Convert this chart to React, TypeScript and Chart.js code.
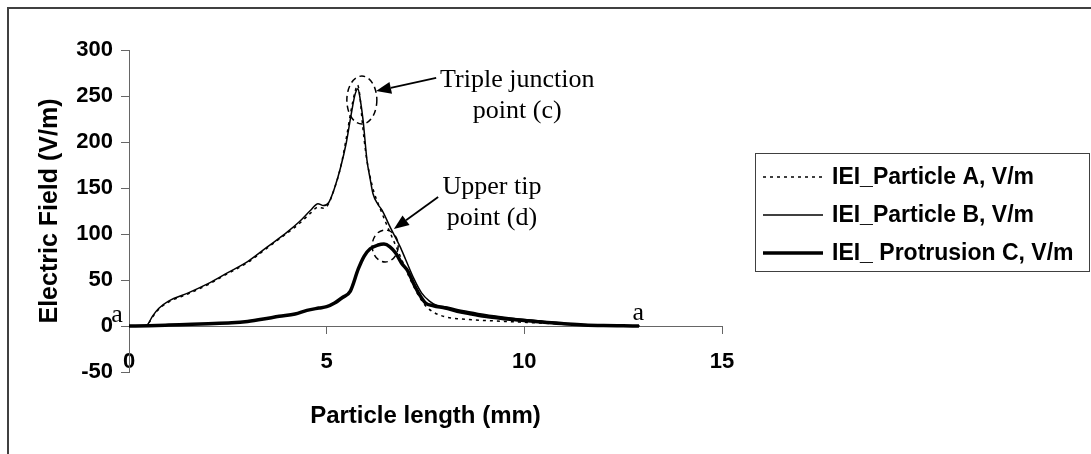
import React, { useEffect, useRef } from 'react';
import { Chart, registerables } from 'chart.js';

Chart.register(...registerables);

// ---------- data ----------
const seriesNames = ['IEI_Particle A, V/m', 'IEI_Particle B, V/m', 'IEI_ Protrusion C, V/m'];

const xA = [0, 0.3, 0.45, 0.6, 0.75, 1.0, 1.5, 2.0, 2.5, 3.0, 3.5, 4.0, 4.3, 4.6, 4.78, 4.92, 5.05, 5.2, 5.35, 5.5, 5.62, 5.72, 5.78, 5.84, 5.9, 6.0, 6.1, 6.2, 6.35, 6.5, 6.7, 6.9, 7.1, 7.3, 7.5, 7.7, 8.0, 8.3, 8.6, 9.0, 9.5, 10.0, 10.5, 11.0, 11.5, 12.0, 12.5, 13.0];
const yA = [0, 0, 1, 10, 18, 26, 35, 45, 57, 69, 85, 101, 111, 123, 129, 128, 133, 150, 172, 205, 235, 255, 262, 250, 222, 185, 162, 145, 128, 112, 92, 72, 52, 35, 22, 15, 10, 8, 7, 6, 5, 4, 3, 2.2, 1.3, 0.6, 0.2, 0];

const xB = [0, 0.3, 0.45, 0.6, 0.75, 1.0, 1.5, 2.0, 2.5, 3.0, 3.5, 4.0, 4.3, 4.6, 4.78, 4.92, 5.05, 5.2, 5.35, 5.5, 5.62, 5.72, 5.79, 5.85, 5.92, 6.02, 6.1, 6.17, 6.3, 6.4, 6.6, 6.86, 7.0, 7.2, 7.4, 7.6, 7.8, 8.0, 8.3, 8.6, 9.0, 9.5, 10.0, 10.5, 11.0, 11.5, 12.0, 12.5, 12.9];
const yB = [0, 0, 1, 11, 19, 27, 36, 46, 58, 70, 86, 102, 113, 126, 133, 131, 134, 150, 172, 200, 230, 252, 258, 246, 224, 180, 160, 144, 132, 126, 108, 86, 72, 52, 36, 27, 22, 21, 18, 15.5, 12.5, 9.5, 7, 5, 3, 1.5, 0.6, 0.2, 0];

const xC = [0, 0.5, 1.0, 1.6, 2.0, 2.6, 3.0, 3.4, 3.8, 4.2, 4.5, 4.8, 5.0, 5.2, 5.4, 5.6, 5.8, 5.95, 6.1, 6.3, 6.45, 6.6, 6.75, 6.9, 7.05, 7.2, 7.35, 7.5, 7.7, 8.0, 8.3, 8.6, 9.0, 9.5, 10.0, 10.5, 11.0, 11.5, 12.0, 12.5, 12.9];
const yC = [0, 0.3, 1, 2, 2.5, 3.5, 5, 7.5, 10.5, 13, 17, 19.5, 21, 25, 31, 38, 62, 76, 84, 88, 89, 86, 79, 68, 60, 46, 34, 25, 22, 19.5, 16, 13.5, 10.5, 8, 6, 4, 2.5, 1.2, 0.5, 0.2, 0];

const xTickStep = 5;
const xRange = [0, 15];
const yTickStep = 50;
const yRange = [-50, 300];
const xTitle = 'Particle length (mm)';
const yTitle = 'Electric Field (V/m)';

// callouts (data coordinates)
const calloutLines = [['Triple junction', 'point (c)'], ['Upper tip', 'point (d)']];
const calloutTextAt = [[9.82, 259.8], [9.18, 143.5]];
const arrowFrom = [[7.77, 269.6], [7.82, 140.2]];
const arrowTo = [[6.25, 255.4], [6.70, 105.4]];
const ellipseCenter = [[5.89, 245.6], [6.48, 87]];
const ellipseRadiusPx = [[15, 24], [13, 16]];
const endLabels = ['a', 'a'];
const endLabelAt = [[-0.3, 4.3], [12.88, 6.5]];

const SANS = '"Liberation Sans", Arial, Helvetica, sans-serif';
const SERIF = '"Liberation Serif", "Times New Roman", Times, serif';

const annotationPlugin = {
  id: 'callouts',
  afterDatasetsDraw(chart: any) {
    const { ctx, scales } = chart;
    const xs = scales.x;
    const ys = scales.y;
    ctx.save();
    ctx.strokeStyle = '#000';
    ctx.lineWidth = 1.5;
    ctx.setLineDash([6, 4]);
    ellipseCenter.forEach((c, i) => {
      ctx.beginPath();
      ctx.ellipse(xs.getPixelForValue(c[0]), ys.getPixelForValue(c[1]), ellipseRadiusPx[i][0], ellipseRadiusPx[i][1], 0, 0, Math.PI * 2);
      ctx.stroke();
    });
    ctx.setLineDash([]);
    arrowFrom.forEach((f, i) => {
      const x1 = xs.getPixelForValue(f[0]);
      const y1 = ys.getPixelForValue(f[1]);
      const x2 = xs.getPixelForValue(arrowTo[i][0]);
      const y2 = ys.getPixelForValue(arrowTo[i][1]);
      const ang = Math.atan2(y2 - y1, x2 - x1);
      const hl = 15;
      const hw = 6;
      const bx = x2 - hl * Math.cos(ang);
      const by = y2 - hl * Math.sin(ang);
      ctx.lineWidth = 1.8;
      ctx.beginPath();
      ctx.moveTo(x1, y1);
      ctx.lineTo(bx, by);
      ctx.stroke();
      ctx.beginPath();
      ctx.moveTo(x2, y2);
      ctx.lineTo(bx + hw * Math.sin(ang), by - hw * Math.cos(ang));
      ctx.lineTo(bx - hw * Math.sin(ang), by + hw * Math.cos(ang));
      ctx.closePath();
      ctx.fillStyle = '#000';
      ctx.fill();
    });
    ctx.fillStyle = '#000';
    ctx.font = `26px ${SERIF}`;
    ctx.textAlign = 'center';
    ctx.textBaseline = 'alphabetic';
    calloutLines.forEach((lines, i) => {
      const cx = xs.getPixelForValue(calloutTextAt[i][0]);
      const cy = ys.getPixelForValue(calloutTextAt[i][1]);
      lines.forEach((t, j) => ctx.fillText(t, cx, cy + j * 31));
    });
    endLabels.forEach((t, i) => {
      ctx.fillText(t, xs.getPixelForValue(endLabelAt[i][0]), ys.getPixelForValue(endLabelAt[i][1]));
    });
    ctx.restore();
  },
};

const legendFramePlugin = {
  id: 'legendFrame',
  afterDraw(chart: any) {
    const { ctx } = chart;
    ctx.save();
    ctx.strokeStyle = '#404040';
    ctx.lineWidth = 2;
    ctx.beginPath();
    ctx.moveTo(8, 454);
    ctx.lineTo(8, 8);
    ctx.lineTo(1091, 8);
    ctx.stroke();
    const left = 755.5, top = 153.5, right = 1089.5, bottom = 271.5;
    ctx.lineWidth = 1;
    ctx.strokeStyle = '#404040';
    ctx.strokeRect(left, top, right - left, bottom - top);
    const rows = [177, 215, 253];
    chart.data.datasets.forEach((ds: any, i: number) => {
      const y = rows[i];
      ctx.strokeStyle = ds.borderColor;
      ctx.lineWidth = ds.borderWidth;
      ctx.setLineDash(ds.borderDash || []);
      ctx.beginPath();
      ctx.moveTo(763, y);
      ctx.lineTo(823, y);
      ctx.stroke();
      ctx.setLineDash([]);
      ctx.fillStyle = '#000';
      ctx.font = `bold 23px ${SANS}`;
      ctx.textAlign = 'left';
      ctx.textBaseline = 'middle';
      ctx.fillText(ds.label, 832, y + 1);
    });
    ctx.restore();
  },
};

export default function App() {
  const ref = useRef<HTMLCanvasElement>(null);
  useEffect(() => {
    const canvas = ref.current;
    if (!canvas) return;
    const mk = (xs: number[], ys: number[]) => xs.map((x, i) => ({ x, y: ys[i] }));
    const chart = new Chart(canvas, {
      type: 'line',
      data: {
        datasets: [
          { label: seriesNames[0], data: mk(xA, yA), borderColor: '#000', borderWidth: 1.5, borderDash: [3, 4], pointRadius: 0, fill: false, cubicInterpolationMode: 'monotone' },
          { label: seriesNames[1], data: mk(xB, yB), borderColor: '#000', borderWidth: 1.5, pointRadius: 0, fill: false, cubicInterpolationMode: 'monotone' },
          { label: seriesNames[2], data: mk(xC, yC), borderColor: '#000', borderWidth: 3.5, pointRadius: 0, fill: false, cubicInterpolationMode: 'monotone' },
        ],
      } as any,
      options: {
        animation: false,
        responsive: false,
        devicePixelRatio: 1,
        layout: { padding: { left: 0, top: 50, right: 369, bottom: 82 } },
        plugins: { legend: { display: false }, tooltip: { enabled: false } },
        scales: {
          x: {
            type: 'linear',
            min: xRange[0],
            max: xRange[1],
            position: { y: 0 } as any,
            afterFit: (s: any) => { s.height = 82; },
            ticks: { stepSize: xTickStep, color: '#000', font: { family: SANS, size: 22, weight: 'bold' }, padding: 16, maxRotation: 0, autoSkip: false },
            grid: { drawOnChartArea: false, drawTicks: true, tickLength: 7, color: '#666', lineWidth: 1 },
            border: { display: true, color: '#666', width: 1 },
            title: { display: true, text: xTitle, color: '#000', font: { family: SANS, size: 24, weight: 'bold' }, padding: { top: 0, bottom: -23 } },
          },
          y: {
            type: 'linear',
            min: yRange[0],
            max: yRange[1],
            position: 'left',
            afterFit: (s: any) => { s.width = 129; },
            ticks: { stepSize: yTickStep, color: '#000', font: { family: SANS, size: 22, weight: 'bold' }, padding: 8 },
            grid: { drawOnChartArea: false, drawTicks: true, tickLength: 8, color: '#666', lineWidth: 1 },
            border: { display: true, color: '#666', width: 1 },
            title: { display: true, text: yTitle, color: '#000', font: { family: SANS, size: 25, weight: 'bold' }, padding: { top: 35, bottom: 0 } },
          },
        },
      } as any,
      plugins: [annotationPlugin, legendFramePlugin],
    });
    return () => chart.destroy();
  }, []);
  return (
    <div style={{ position: 'absolute', left: 0, top: 0, width: 1091, height: 454, overflow: 'hidden', background: '#fff' }}>
      <canvas ref={ref} width={1091} height={454} style={{ display: 'block', width: 1091, height: 454 }} />
    </div>
  );
}
